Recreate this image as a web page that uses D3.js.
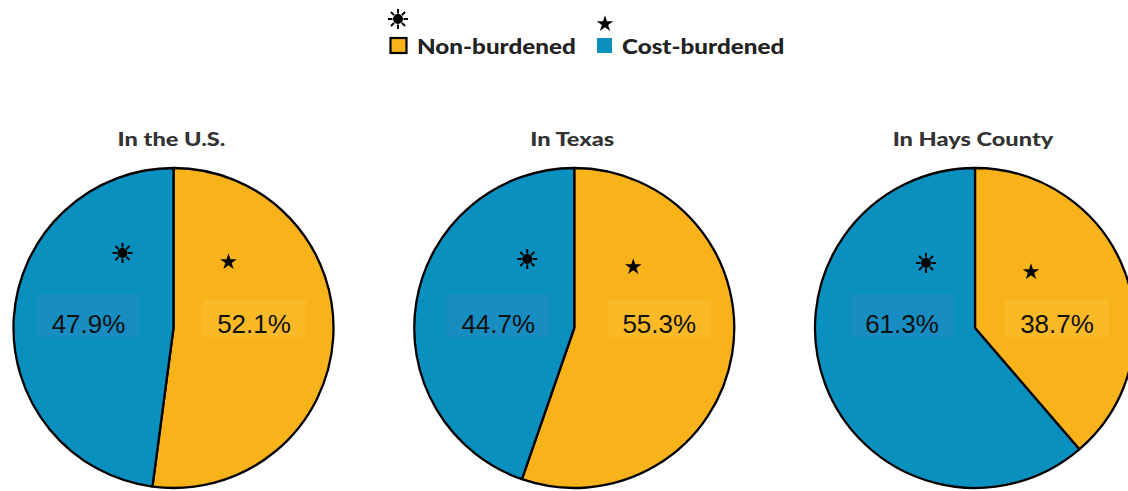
<!DOCTYPE html>
<html><head><meta charset="utf-8">
<script src="https://cdn.jsdelivr.net/npm/d3@7"></script>
<style>
html,body{margin:0;padding:0;background:#fff;overflow:hidden}
</style></head>
<body>
<svg id="chart" width="1128" height="491"></svg>
<script>
// ---- data ----
const regions = ["In the U.S.", "In Texas", "In Hays County"];
const nonBurdened = [52.1, 55.3, 38.7];
const costBurdened = [47.9, 44.7, 61.3];
const seriesNames = ["Non-burdened", "Cost-burdened"];

// ---- style ----
const colors = {"Non-burdened": "#F8B31B", "Cost-burdened": "#0990BE"};
const boxColors = {"Non-burdened": "#FAB928", "Cost-burdened": "#1A8DC2"};
const svg = d3.select("#chart");

const cxScale = d3.scalePoint().domain(regions).range([173.5, 975]);
const cy = 328, R = 160;

const pie = d3.pie().sort(null).value(d => d.v);
const arc = d3.arc().innerRadius(0).outerRadius(R);

function widen(sel, f) {
  sel.each(function () {
    const w = this.getComputedTextLength();
    d3.select(this).attr("textLength", w * f).attr("lengthAdjust", "spacingAndGlyphs");
  });
  return sel;
}
function sun(g, x, y, s) {
  const sg = g.append("g").attr("transform", `translate(${x},${y})`);
  sg.append("circle").attr("r", s * 0.5).attr("fill", "#000");
  for (let i = 0; i < 8; i++) {
    const a = i * Math.PI / 4;
    sg.append("line")
      .attr("x1", Math.cos(a) * s * 0.55).attr("y1", Math.sin(a) * s * 0.55)
      .attr("x2", Math.cos(a) * s).attr("y2", Math.sin(a) * s)
      .attr("stroke", "#000").attr("stroke-width", 2);
  }
}
function star(g, x, y, s) {
  g.append("path").attr("d", d3.symbol(d3.symbolStar, s)())
    .attr("transform", `translate(${x},${y})`).attr("fill", "#000");
}
const headFont = "Lato, 'Open Sans', sans-serif";

// ---- legend ----
const lg = svg.append("g");
sun(lg, 398, 19, 10);
star(lg, 605, 24, 85);
lg.append("rect").attr("x", 390.5).attr("y", 38).attr("width", 16).attr("height", 15)
  .attr("fill", colors["Non-burdened"]).attr("stroke", "#000").attr("stroke-width", 2.2);
widen(lg.append("text").attr("x", 417).attr("y", 54).text(seriesNames[0])
  .attr("font-family", headFont).attr("font-weight", 900)
  .attr("font-size", 20).attr("fill", "#222"), 1.21);
lg.append("rect").attr("x", 597).attr("y", 38).attr("width", 15).attr("height", 15)
  .attr("fill", colors["Cost-burdened"]);
widen(lg.append("text").attr("x", 622).attr("y", 54).text(seriesNames[1])
  .attr("font-family", headFont).attr("font-weight", 900)
  .attr("font-size", 20).attr("fill", "#222"), 1.21);

// ---- pies ----
const sunOff = [[-51, -75], [-47, -69], [-49, -65]];
const starOff = [[55, -66], [59, -61], [56, -56]];
const labelOff = { "Cost-burdened": [-85, -76, -73], "Non-burdened": [80.5, 85, 82] };

regions.forEach((r, i) => {
  const cx = cxScale(r);
  const g = svg.append("g").attr("transform", `translate(${cx},${cy})`);
  const data = [
    {k: "Non-burdened", v: nonBurdened[i]},
    {k: "Cost-burdened", v: costBurdened[i]}
  ];
  g.selectAll("path.slice").data(pie(data)).join("path")
    .attr("class", "slice")
    .attr("d", arc)
    .attr("fill", d => colors[d.data.k])
    .attr("stroke", "#000").attr("stroke-width", 2.3).attr("stroke-linejoin", "round");

  const t = svg.append("text").attr("x", cx - 2).attr("y", 146).attr("text-anchor", "middle")
    .text(r).attr("font-family", headFont).attr("font-weight", 900)
    .attr("font-size", 19).attr("fill", "#333");
  widen(t, 1.24);

  data.forEach(d => {
    const lx = labelOff[d.k][i];
    const txt = d.v.toFixed(1) + "%";
    const bw = 104, bh = d.k === "Cost-burdened" ? 43 : 37;
    const by = d.k === "Cost-burdened" ? -34 : -28;
    g.append("rect").attr("x", lx - bw / 2).attr("y", by).attr("width", bw).attr("height", bh)
      .attr("fill", boxColors[d.k]).attr("opacity", 0.9);
    g.append("text").attr("x", lx).attr("y", 5).attr("text-anchor", "middle")
      .text(txt).attr("font-family", "'Liberation Sans', Arial, sans-serif")
      .attr("font-size", 26).attr("fill", "#111");
  });

  sun(g, sunOff[i][0], sunOff[i][1], 10);
  star(g, starOff[i][0], starOff[i][1], 85);
});
</script>
</body></html>
